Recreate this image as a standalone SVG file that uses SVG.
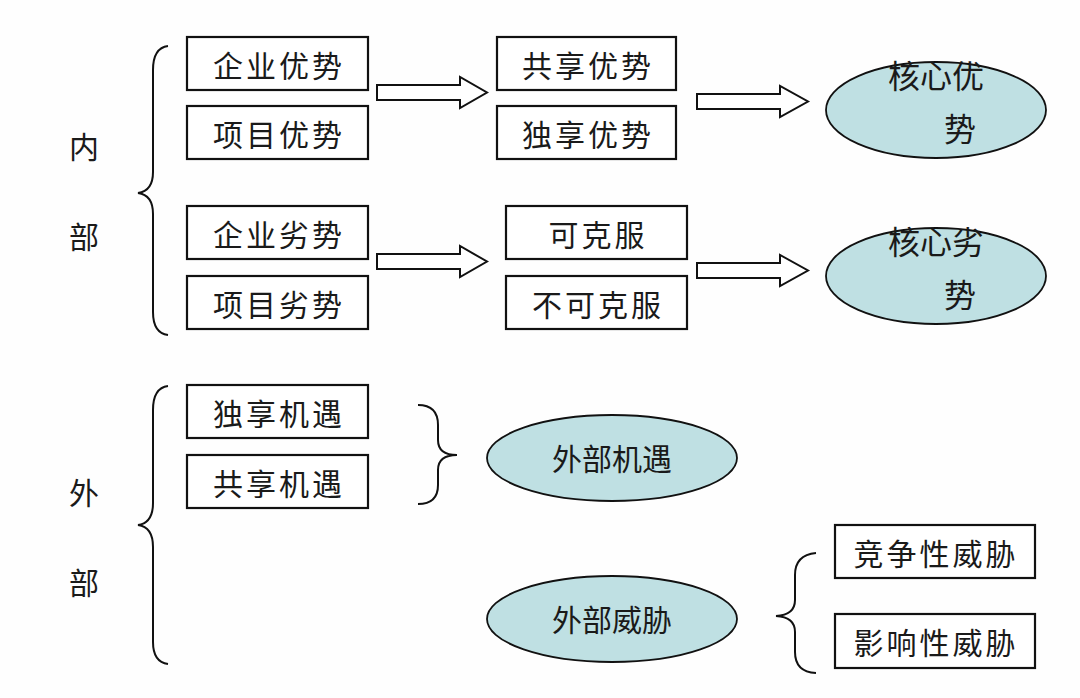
<svg xmlns="http://www.w3.org/2000/svg" width="1080" height="698" viewBox="0 0 1080 698">
<defs>
<style>
.box{fill:#fff;stroke:#111;stroke-width:2.2}
.ell{fill:#bfe0e3;stroke:#111;stroke-width:1.8}
.arr{fill:#fff;stroke:#111;stroke-width:2}
.br{fill:none;stroke:#111;stroke-width:2}
text{font-family:"Noto Sans CJK SC","Noto Sans",sans-serif;font-size:30px;fill:#1a1a1a;text-anchor:middle}
.bt{letter-spacing:3px}
</style>
</defs>
<rect width="1080" height="698" fill="#fefefe"/>
<g id="labels">
<text x="84" y="158">内</text>
<text x="84" y="248">部</text>
<text x="84" y="504">外</text>
<text x="84" y="594">部</text>
</g>
<g id="connectors">
<path class="br" d="M168,46 Q153,48 153,70 L153,172 Q153,191 138,193 Q153,195 153,214 L153,312 Q153,333 168,335"/>
<path class="br" d="M168,386 Q153,388 153,410 L153,503 Q153,523 138,525 Q153,527 153,547 L153,642 Q153,662 168,664"/>
<path class="br" d="M418,405 Q438,405 438,425 L438,440 Q438,455 457,455 Q438,455 438,470 L438,485 Q438,504 418,504"/>
<path class="br" d="M816,553 Q795,555 795,575 L795,600 Q795,615 776,616 Q795,617 795,632 L795,652 Q795,672 816,673"/>
<path class="arr" d="M377,85 L460,85 L460,77 L487,92.5 L460,108 L460,100 L377,100 Z"/>
<path class="arr" d="M377,254 L460,254 L460,246 L487,261.5 L460,277 L460,269 L377,269 Z"/>
<path class="arr" d="M697,94 L780,94 L780,86 L808,101.5 L780,117 L780,109 L697,109 Z"/>
<path class="arr" d="M697,263 L780,263 L780,255 L808,270.5 L780,286 L780,278 L697,278 Z"/>
</g>
<g id="n-qiye-youshi"><rect class="box" x="187" y="37" width="181" height="53"/><text class="bt" x="279" y="77">企业优势</text></g>
<g id="n-xiangmu-youshi"><rect class="box" x="187" y="106" width="181" height="53"/><text class="bt" x="279" y="146">项目优势</text></g>
<g id="n-qiye-lieshi"><rect class="box" x="187" y="206" width="181" height="53"/><text class="bt" x="279" y="246">企业劣势</text></g>
<g id="n-xiangmu-lieshi"><rect class="box" x="187" y="276" width="181" height="53"/><text class="bt" x="279" y="316">项目劣势</text></g>
<g id="n-gongxiang-youshi"><rect class="box" x="497" y="37" width="179" height="53"/><text class="bt" x="588" y="77">共享优势</text></g>
<g id="n-duxiang-youshi"><rect class="box" x="497" y="106" width="179" height="53"/><text class="bt" x="588" y="146">独享优势</text></g>
<g id="n-kekefu"><rect class="box" x="506" y="206" width="181" height="53"/><text class="bt" x="598" y="246">可克服</text></g>
<g id="n-bukekefu"><rect class="box" x="506" y="276" width="181" height="53"/><text class="bt" x="598" y="316">不可克服</text></g>
<g id="n-hexin-youshi"><ellipse class="ell" cx="936" cy="110" rx="110" ry="48"/><text x="936" y="88" font-size="32" style="font-size:32px">核心优</text><text x="960" y="141" style="font-size:32px">势</text></g>
<g id="n-hexin-lieshi"><ellipse class="ell" cx="936" cy="276" rx="110" ry="48"/><text x="936" y="254" style="font-size:32px">核心劣</text><text x="960" y="307" style="font-size:32px">势</text></g>
<g id="n-duxiang-jiyu"><rect class="box" x="187" y="385" width="181" height="53"/><text class="bt" x="279" y="425">独享机遇</text></g>
<g id="n-gongxiang-jiyu"><rect class="box" x="187" y="455" width="181" height="53"/><text class="bt" x="279" y="495">共享机遇</text></g>
<g id="n-waibu-jiyu"><ellipse class="ell" cx="612" cy="458" rx="125" ry="43"/><text x="612" y="470">外部机遇</text></g>
<g id="n-waibu-weixie"><ellipse class="ell" cx="612" cy="619" rx="125" ry="43"/><text x="612" y="631">外部威胁</text></g>
<g id="n-jingzheng"><rect class="box" x="835" y="525" width="200" height="53"/><text class="bt" x="936" y="565">竞争性威胁</text></g>
<g id="n-yingxiang"><rect class="box" x="835" y="614" width="200" height="54"/><text class="bt" x="936" y="654">影响性威胁</text></g>
</svg>
